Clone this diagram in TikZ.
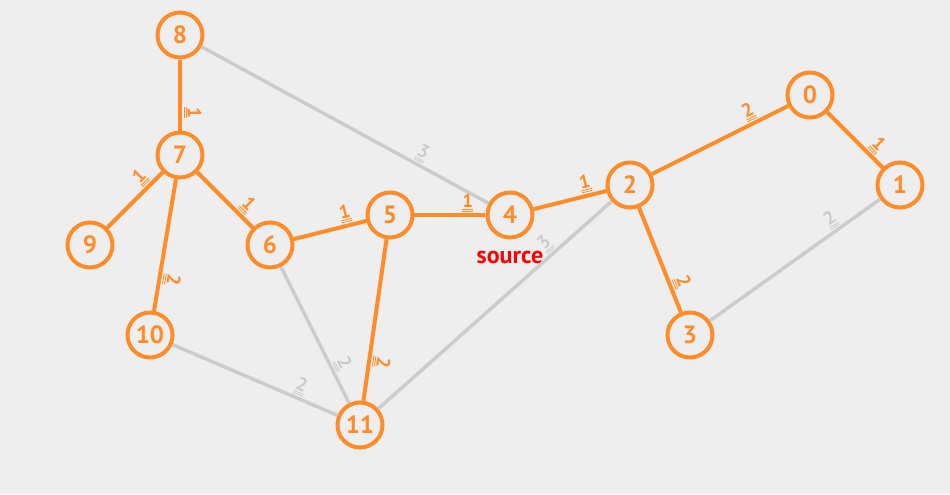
\documentclass[tikz,border=0pt]{standalone}
\usepackage{fontspec}
\setmainfont{PT Sans}
\usetikzlibrary{positioning}
\definecolor{treeorange}{HTML}{FF8C28}
\definecolor{spare}{HTML}{CCCCCC}
\definecolor{paper}{HTML}{EEEEEE}
\newcommand{\wt}[1]{\vtop{\hbox{#1}\kern0.7pt\hrule height0.4pt\kern0.6pt\hrule height0.4pt}}
\tikzset{vertex/.style={circle, draw=treeorange, line width=2pt, fill=paper,
  minimum size=22.5pt, inner sep=0pt, text=treeorange,
  font=\bfseries\fontsize{12.5}{14}\selectfont}, % the vertices of the graph
tree/.style={color=treeorange, line width=2pt}, % edges of the shortest path tree
other/.style={color=spare, line width=1.75pt}, % edges left out of the tree
weight/.style={sloped, allow upside down, above, pos=0.75, inner sep=0.8pt,
  font=\bfseries\fontsize{9.5}{11}\selectfont}, % weight written along its edge
node distance=60pt, % distance between two neighbouring vertices
}

\begin{document}
\begin{tikzpicture}
  \fill[paper] (-255pt,-139.5pt) rectangle (220pt,107.5pt);

  \node[vertex] (v4) {4};
  \node[vertex, left of=v4] (v5) {5};
  \node[vertex, right of=v4, yshift=15pt] (v2) {2};
  \node[vertex, right of=v2, xshift=30pt, yshift=45pt] (v0) {0};
  \node[vertex, right of=v2, xshift=75pt] (v1) {1};
  \node[vertex, below of=v2, xshift=30pt, yshift=-15pt] (v3) {3};
  \node[vertex, left of=v5, yshift=-15pt] (v6) {6};
  \node[vertex, above of=v6, xshift=-45pt, yshift=-15pt] (v7) {7};
  \node[vertex, above of=v7] (v8) {8};
  \node[vertex, left of=v6, xshift=-30pt] (v9) {9};
  \node[vertex, below of=v7, xshift=-15pt, yshift=-30pt] (v10) {10};
  \node[vertex, below of=v5, xshift=-15pt, yshift=-45pt] (v11) {11};
  \node[below=5.5pt of v4, inner sep=0pt, text=red,
    font=\bfseries\fontsize{12}{14}\selectfont] (src) {source};

  \draw (v8) edge[other] node[weight]{\wt{3}} (v4)
  		(v11) edge[other] node[weight]{\wt{3}} (v2)
  		(v6) edge[other] node[weight]{\wt{2}} (v11)
  		(v10) edge[other] node[weight]{\wt{2}} (v11)
  		(v3) edge[other] node[weight]{\wt{2}} (v1)
  		(v8) edge[tree] node[weight]{\wt{1}} (v7)
  		(v9) edge[tree] node[weight]{\wt{1}} (v7)
  		(v7) edge[tree] node[weight]{\wt{1}} (v6)
  		(v7) edge[tree] node[weight]{\wt{2}} (v10)
  		(v6) edge[tree] node[weight]{\wt{1}} (v5)
  		(v5) edge[tree] node[weight]{\wt{1}} (v4)
  		(v5) edge[tree] node[weight]{\wt{2}} (v11)
  		(v4) edge[tree] node[weight]{\wt{1}} (v2)
  		(v2) edge[tree] node[weight]{\wt{2}} (v0)
  		(v0) edge[tree] node[weight]{\wt{1}} (v1)
  		(v2) edge[tree] node[weight]{\wt{2}} (v3);

\end{tikzpicture}
\end{document}
